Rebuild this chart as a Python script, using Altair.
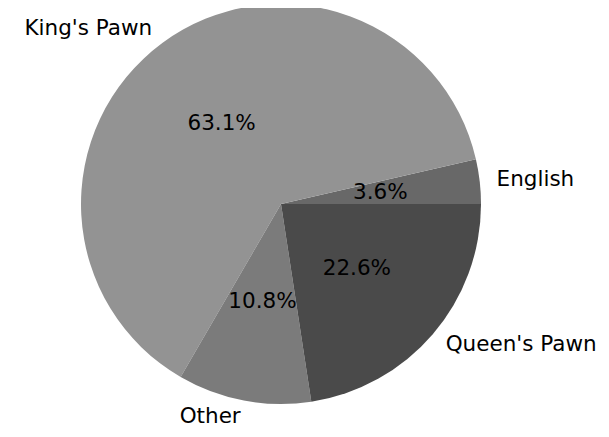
import math
import altair as alt
import pandas as pd

# Data (matplotlib order: counter-clockwise from 3 o'clock)
openings = ["English", "King's Pawn", "Other", "Queen's Pawn"]
shares = [3.6, 63.1, 10.8, 22.6]
pct_labels = ["3.6%", "63.1%", "10.8%", "22.6%"]
colors = ["#686868", "#939393", "#7b7b7b", "#4a4a4a"]

df = pd.DataFrame({
    "opening": openings,
    "share": shares,
    "pct": pct_labels,
    "k": list(range(len(openings))),
})
total = sum(shares)

base = alt.Chart(df).transform_window(
    cum="sum(share)",
    sort=[alt.SortField("k", order="descending")],
    frame=[None, 0],
).transform_calculate(
    start="datum.cum - datum.share",
    mid="datum.cum - datum.share / 2",
    side=f"cos(2 * PI * (datum.cum - datum.share / 2) / {total}) >= 0 ? 'left' : 'right'",
)

theta_scale = alt.Scale(domain=[0, total], range=[math.pi / 2, math.pi / 2 + 2 * math.pi])

arcs = base.mark_arc(radius=200).encode(
    theta=alt.Theta("start:Q", scale=theta_scale, stack=None),
    theta2="cum:Q",
    color=alt.Color("opening:N", scale=alt.Scale(domain=openings, range=colors), legend=None),
)

labels = base.mark_text(
    radius=217, fontSize=21.5, font="DejaVu Sans", baseline="middle",
    align=alt.ExprRef("datum.side"), color="#000000",
).encode(
    theta=alt.Theta("mid:Q", scale=theta_scale, stack=None),
    text="opening:N",
)

pcts = base.mark_text(
    radius=100, fontSize=21.5, font="DejaVu Sans", baseline="middle",
    align="center", color="#000000",
).encode(
    theta=alt.Theta("mid:Q", scale=theta_scale, stack=None),
    text="pct:N",
)

chart = alt.layer(arcs, labels, pcts).properties(
    width=546, height=392, autosize="none",
    padding={"left": 0, "top": 0, "right": 47, "bottom": 29},
).configure_view(stroke=None)

chart.save("out.html", embed_options={"renderer": "svg", "actions": False})
